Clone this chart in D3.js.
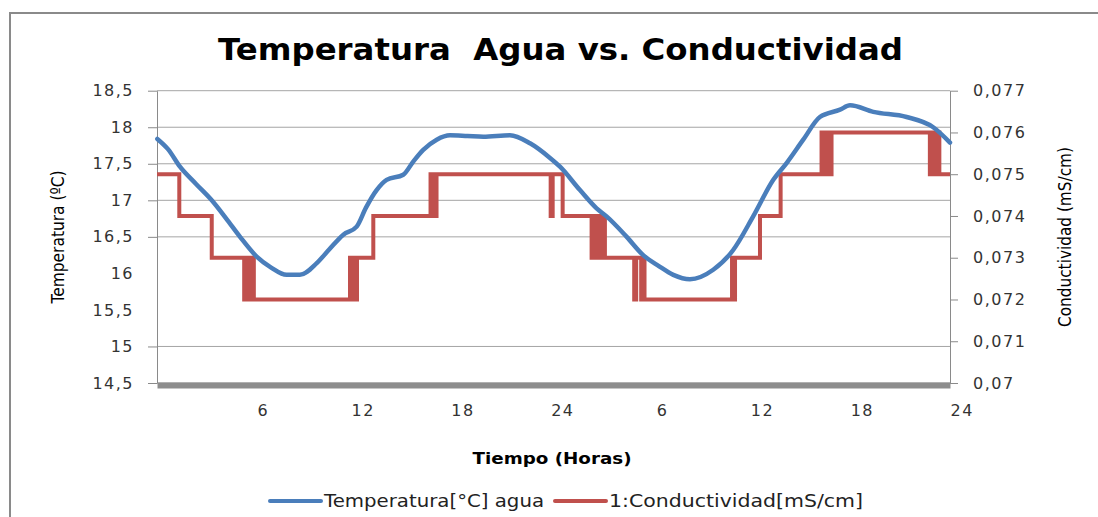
<!DOCTYPE html>
<html>
<head>
<meta charset="utf-8">
<script src="https://cdn.jsdelivr.net/npm/d3@7"></script>
<style>
  body { margin: 0; background: #fff; }
  text { font-family: "DejaVu Sans", sans-serif; }
</style>
</head>
<body>
<div id="main-vis"></div>
<script>
// temperature readings (hours, ºC)
const tempHours = [-0.34, 0.3, 1.02, 2.0, 2.93, 3.8, 4.63, 5.63, 6.5, 7.43, 8.23, 9.24, 10.0, 10.84, 11.64, 12.2, 12.84, 13.44, 14.44, 15.04, 15.64, 16.45, 17.25, 18.3, 19.25, 20.85, 22.06, 23.26,
                   23.86, 25.06, 26.06, 26.66, 27.87, 28.86, 29.8, 30.67, 31.67, 33.07, 34.27, 35.47, 36.68, 37.48, 38.48, 39.48, 40.69, 41.29, 42.69, 44.69, 46.29, 47.3]
const tempValues = [17.84, 17.7, 17.46, 17.22, 17.0, 16.75, 16.5, 16.23, 16.08, 15.98, 15.98, 16.14, 16.33, 16.53, 16.64, 16.9, 17.14, 17.28, 17.35, 17.53, 17.69, 17.83, 17.89, 17.88, 17.87, 17.89, 17.78, 17.58,
                    17.46, 17.14, 16.89, 16.78, 16.5, 16.25, 16.1, 15.98, 15.92, 16.05, 16.32, 16.78, 17.28, 17.51, 17.83, 18.14, 18.24, 18.30, 18.21, 18.14, 18.0, 17.79]

// conductivity steps (value holds until the next hour)
const condHours = [-0.36, 0.98, 2.93, 4.88, 4.98, 5.14, 5.22, 5.30, 5.38, 5.46,
                   11.24, 11.34, 11.44, 11.54, 11.66, 12.64,
                   16.08, 16.16, 16.24, 16.34, 16.44, 23.30, 23.42, 24.02,
                   25.76, 25.86, 25.96, 26.06, 26.16, 26.26, 26.36, 26.46, 26.56,
                   28.32, 28.44, 28.74, 28.84, 28.94, 34.20, 34.30, 34.38, 35.88, 37.12,
                   39.58, 39.68, 39.78, 39.88, 39.98, 40.08, 40.18,
                   46.09, 46.19, 46.29, 46.39, 46.49, 46.59, 46.66, 47.3]
const condValues = [0.075, 0.074, 0.073, 0.072, 0.073, 0.072, 0.073, 0.072, 0.073, 0.072,
                    0.073, 0.072, 0.073, 0.072, 0.073, 0.074,
                    0.075, 0.074, 0.075, 0.074, 0.075, 0.074, 0.075, 0.074,
                    0.073, 0.074, 0.073, 0.074, 0.073, 0.074, 0.073, 0.074, 0.073,
                    0.072, 0.073, 0.072, 0.073, 0.072, 0.073, 0.072, 0.073, 0.074, 0.075,
                    0.076, 0.075, 0.076, 0.075, 0.076, 0.075, 0.076,
                    0.075, 0.076, 0.075, 0.076, 0.075, 0.076, 0.075, 0.075]

const tempTicks = [14.5, 15, 15.5, 16, 16.5, 17, 17.5, 18, 18.5]
const condTicks = [0.070, 0.071, 0.072, 0.073, 0.074, 0.075, 0.076, 0.077]
const hourTicks = [6, 12, 18, 24, 30, 36, 42, 48]
const noGrid = [15.5, 16] // these lines don't show in the source image

const blue = '#4a7ebb'
const red = '#c0504d'
const comma = d => String(d).replace('.', ',')

window.onload = setup

function setup () {
    const svg = d3.create('svg')
        .attr('width', 1098)
        .attr('height', 517)

    const x = d3.scaleLinear().domain([-0.36, 47.3]).range([157, 950])
    const yT = d3.scaleLinear().domain([14.5, 18.5]).range([383, 90.7])
    const yC = d3.scaleLinear().domain([0.070, 0.077]).range([383, 90.7])

    // outer frame
    svg.append('path')
        .attr('d', 'M10,517 V13 H1098')
        .attr('fill', 'none')
        .attr('stroke', '#8a8a8a')
        .attr('stroke-width', 2)

    svg.append('text')
        .attr('x', 560.5).attr('y', 60)
        .attr('text-anchor', 'middle')
        .attr('font-size', 30).attr('font-weight', 'bold')
        .style('white-space', 'pre')
        .attr('textLength', 685).attr('lengthAdjust', 'spacingAndGlyphs')
        .text('Temperatura  Agua vs. Conductividad')

    // gridlines
    svg.append('g')
        .selectAll('line')
        .data(tempTicks.filter(v => !noGrid.includes(v)))
        .join('line')
            .attr('x1', 157).attr('x2', 950)
            .attr('y1', d => yT(d)).attr('y2', d => yT(d))
            .attr('stroke', '#a5a5a5')

    const left = svg.append('g')
        .attr('transform', 'translate(157,0)')
        .call(d3.axisLeft(yT).tickValues(tempTicks).tickSize(9).tickSizeOuter(0).tickPadding(14).tickFormat(comma))
    left.selectAll('.tick line').attr('stroke', '#8a8a8a')
        .attr('opacity', d => noGrid.includes(d) ? 0 : 1)

    const right = svg.append('g')
        .attr('transform', 'translate(950,0)')
        .call(d3.axisRight(yC).tickValues(condTicks).tickSize(8).tickSizeOuter(0).tickPadding(15).tickFormat(comma))
    right.selectAll('.tick line').attr('stroke', '#8a8a8a')

    for (const g of [left, right]) {
        g.select('.domain').attr('stroke', '#8a8a8a')
        g.selectAll('.tick text')
            .attr('font-family', '"DejaVu Sans", sans-serif')
            .attr('font-size', 16)
            .attr('letter-spacing', 1.5)
            .attr('fill', '#333')
    }

    // thick bottom axis
    const bottom = svg.append('g')
        .attr('transform', `translate(0,${yT(14.5) + 2})`)
        .call(d3.axisBottom(x).tickValues(hourTicks).tickSize(0).tickPadding(20)
            .tickFormat(d => (d - 1) % 24 + 1))
    bottom.select('.domain').attr('stroke', '#8d8d8d').attr('stroke-width', 6)
    bottom.selectAll('.tick text')
        .attr('font-family', '"DejaVu Sans", sans-serif')
        .attr('font-size', 16)
        .attr('letter-spacing', 1.5)
        .attr('fill', '#333')

    // series
    const condLine = d3.line()
        .x(i => x(condHours[i]))
        .y(i => yC(condValues[i]))
        .curve(d3.curveStepAfter)
    svg.append('path')
        .attr('d', condLine(d3.range(condHours.length)))
        .attr('fill', 'none')
        .attr('stroke', red)
        .attr('stroke-width', 4)

    const tempLine = d3.line()
        .x(i => x(tempHours[i]))
        .y(i => yT(tempValues[i]))
        .curve(d3.curveMonotoneX)
    svg.append('path')
        .attr('d', tempLine(d3.range(tempHours.length)))
        .attr('fill', 'none')
        .attr('stroke', blue)
        .attr('stroke-width', 4.5)
        .attr('stroke-linecap', 'round')

    // axis titles
    svg.append('text')
        .attr('transform', 'translate(64,237) rotate(-90)')
        .attr('text-anchor', 'middle')
        .attr('font-family', '"Liberation Sans Narrow", "Liberation Sans", sans-serif')
        .attr('font-size', 18)
        .attr('textLength', 133).attr('lengthAdjust', 'spacingAndGlyphs')
        .text('Temperatura (ºC)')

    svg.append('text')
        .attr('transform', 'translate(1071,237) rotate(-90)')
        .attr('text-anchor', 'middle')
        .attr('font-family', '"Liberation Sans Narrow", "Liberation Sans", sans-serif')
        .attr('font-size', 18)
        .attr('textLength', 180).attr('lengthAdjust', 'spacingAndGlyphs')
        .text('Conductividad (mS/cm)')

    svg.append('text')
        .attr('x', 552).attr('y', 464)
        .attr('text-anchor', 'middle')
        .attr('font-size', 16).attr('font-weight', 'bold')
        .attr('textLength', 159).attr('lengthAdjust', 'spacingAndGlyphs')
        .text('Tiempo (Horas)')

    // legend
    const legend = [
        {label: 'Temperatura[°C] agua', color: blue, x: 270, w: 220},
        {label: '1:Conductividad[mS/cm]', color: red, x: 555, w: 254}
    ]
    const items = svg.append('g').selectAll('g')
        .data(legend)
        .join('g')
            .attr('transform', d => `translate(${d.x},501)`)
    items.append('line')
        .attr('x1', 0).attr('x2', 51)
        .attr('stroke', d => d.color)
        .attr('stroke-width', 4)
        .attr('stroke-linecap', 'round')
    items.append('text')
        .attr('x', 54).attr('y', 6)
        .attr('font-size', 17)
        .attr('fill', '#222')
        .attr('textLength', d => d.w).attr('lengthAdjust', 'spacingAndGlyphs')
        .text(d => d.label)

    d3.select('#main-vis').node().appendChild(svg.node())
}
</script>
</body>
</html>
